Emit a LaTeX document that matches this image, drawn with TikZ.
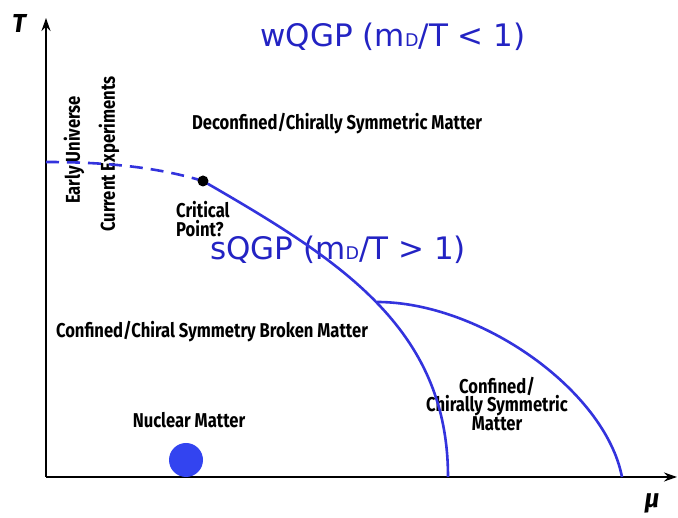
\documentclass[tikz,border=0pt]{standalone}
\usepackage{fontspec}
\usepackage{xcolor}
\usepackage{tikz}
\usetikzlibrary{arrows.meta,positioning}
\newfontfamily\lblfont[FakeStretch=0.83]{Fira Sans}
\newfontfamily\qgpfont{DejaVu Sans}
\newfontfamily\axfont{Fira Sans}
\definecolor{linec}{HTML}{3333DD}
\definecolor{qgpc}{HTML}{2323C3}
\definecolor{dotc}{HTML}{3344F0}
\tikzset{
  ax/.style={-{Stealth[length=13pt,width=9pt]},line width=2.6pt},
  bd/.style={linec,line width=2.6pt},
  lb/.style={font=\lblfont\bfseries\fontsize{20}{18.5}\selectfont,inner sep=0pt},
  qg/.style={font=\qgpfont\fontsize{31}{33}\selectfont,text=qgpc,inner sep=0pt},
  axl/.style={font=\axfont\bfseries\itshape\fontsize{26}{28}\selectfont,inner sep=0pt}
}
\newcommand{\mDT}{m{\fontsize{17.5}{18}\selectfont D}/T}

\begin{document}
\begin{tikzpicture}[x=1pt,y=1pt]
\useasboundingbox (0,0) rectangle (678,518);
\coordinate (o) at (46,41);
\coordinate (ttop) at (46,500);
\coordinate (mend) at (677,41);
\coordinate (cstart) at (46,356);
\coordinate (crit) at (203,337);
\coordinate (trip) at (377,216);
\coordinate (mbase) at (448,41);
\coordinate (cbase) at (622,41);
% labels
\node[qg] (wqgp) at (393,481) {wQGP (\mDT{} < 1)};
\node[lb] (deconf) at (337,394) {Deconfined/Chirally Symmetric Matter};
\node[lb,rotate=90] (early) at (74,368) {Early Universe};
\node[lb,rotate=90] (curexp) at (109,364) {Current Experiments};
\node[lb,align=left,anchor=south west] (critlbl) at (176,281) {Critical\\Point?};
\node[qg] (sqgp) at (338,268) {sQGP (\mDT{} > 1)};
\node[lb] (broken) at (212,186) {Confined/Chiral Symmetry Broken Matter};
\node[lb] (nuclbl) at (189,98) {Nuclear Matter};
\node[lb,align=center] (chisym) at (497,114) {Confined/\\Chirally Symmetric\\Matter};
\node[axl] (tlbl) at (19,494) {T};
\node[axl] (mulbl) at (652,15) {μ};
% axes
\draw[ax] (o) -- (ttop);
\draw[ax] (o) -- (mend);
% phase lines
\draw[bd,dash pattern=on 13pt off 8pt] (cstart) .. controls (110,356) and (160,350) .. (crit);
\draw[bd] (crit) .. controls (338,259) and (448,191) .. (mbase);
\draw[bd] (trip) .. controls (480,216) and (605,128) .. (cbase);
\fill (crit) circle (5.5);
\fill[dotc] (186,58) circle (17);
\end{tikzpicture}
\end{document}
